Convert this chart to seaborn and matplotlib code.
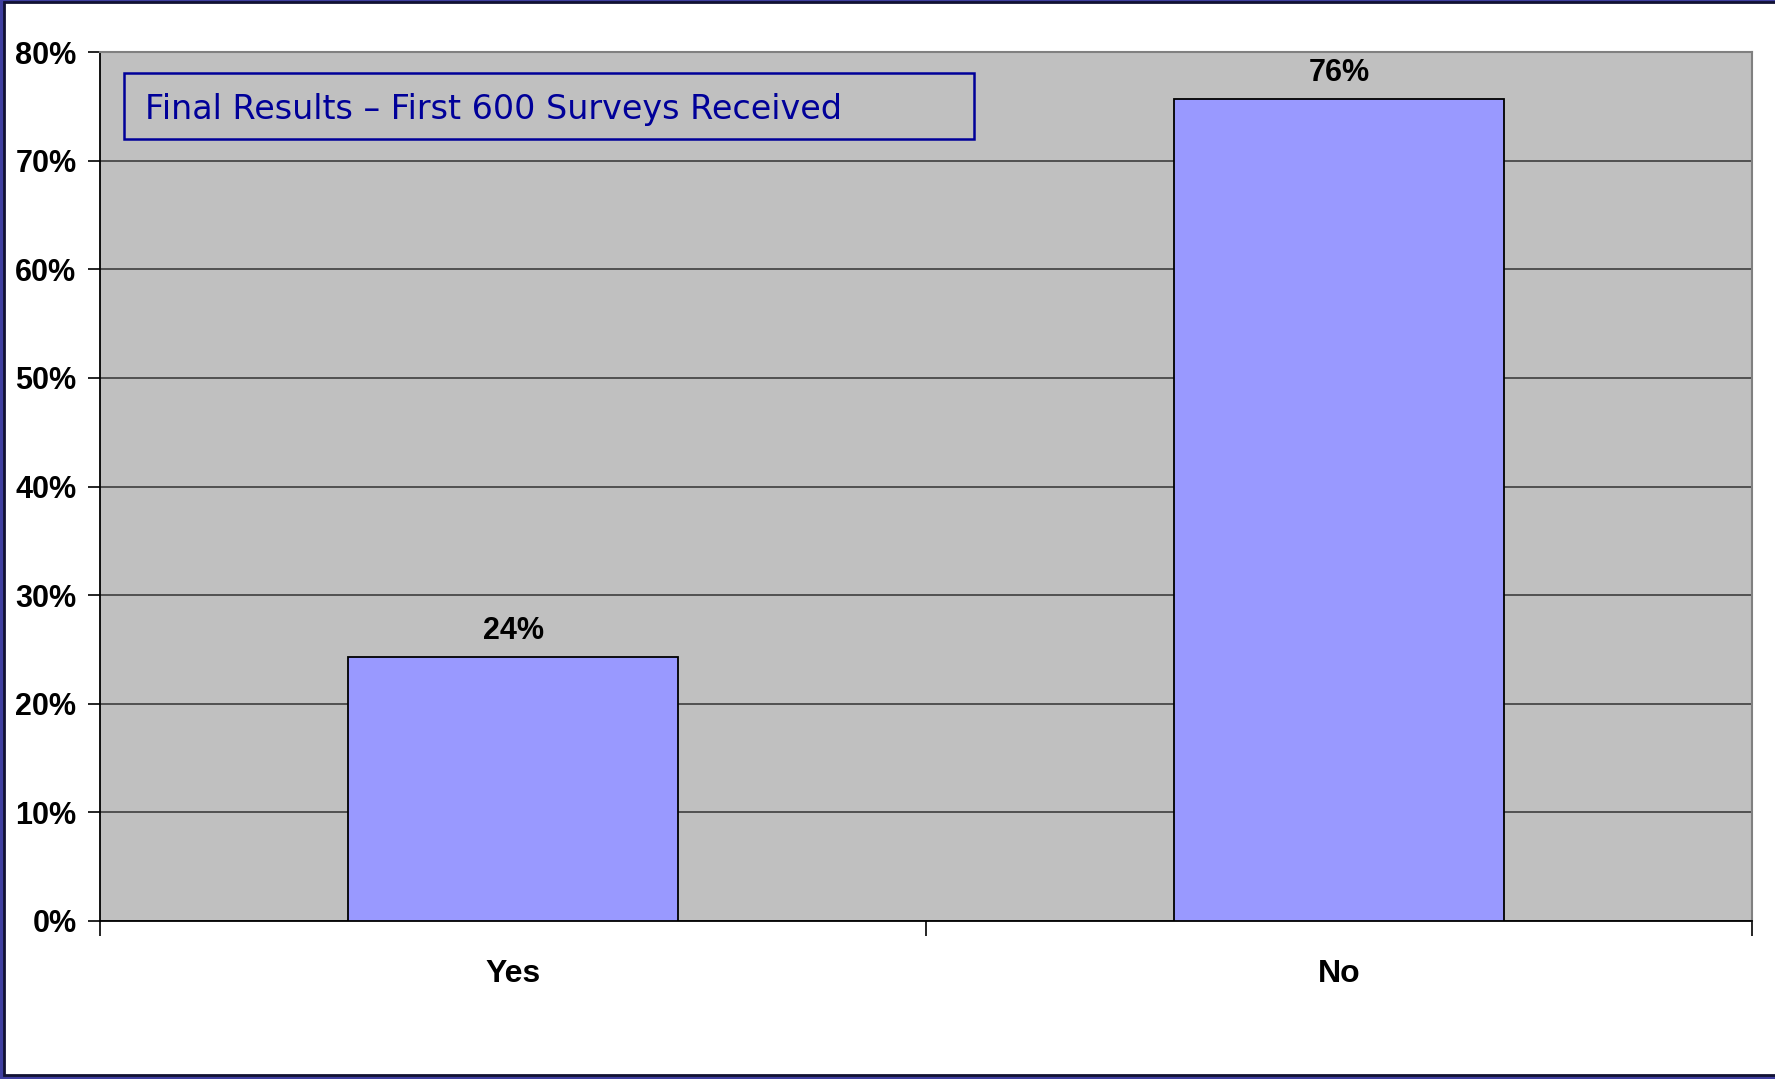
import matplotlib
matplotlib.use("Agg")
import matplotlib.pyplot as plt
import seaborn as sns
import pandas as pd
from matplotlib.patches import Rectangle
from matplotlib.ticker import PercentFormatter, FixedLocator

categories = ["Yes", "No"]
values = [24.3, 75.7]
value_labels = ["24%", "76%"]
title_text = "Final Results \u2013 First 600 Surveys Received"

W, H = 1775, 1079
sns.set_theme(style="white")
plt.rcParams['font.family'] = ['Liberation Sans', 'DejaVu Sans']

fig = plt.figure(figsize=(W / 100, H / 100), dpi=100)
fig.patch.set_facecolor('#3f3fa0')

def fx(px):
    return px / W

def fy(py):
    return 1 - py / H

# white slide area
fig.patches.append(Rectangle((fx(4), fy(1075)), fx(1775) - fx(4) + 0.01, fy(2) - fy(1075),
                             transform=fig.transFigure, facecolor='white',
                             edgecolor='#111133', linewidth=2, zorder=-1))

ax = fig.add_axes([fx(100), fy(921), fx(1752) - fx(100), fy(52) - fy(921)])
df = pd.DataFrame({"answer": categories, "pct": values})
sns.barplot(data=df, x="answer", y="pct", color='#9999FF', saturation=1,
            width=0.4, edgecolor='black', linewidth=1.3, ax=ax, zorder=3)

ax.set_facecolor('#C0C0C0')
ax.set_ylim(0, 80)
ax.set_xlim(-0.5, 1.5)
ax.set_yticks(range(0, 81, 10))
ax.yaxis.set_major_formatter(PercentFormatter(xmax=100, decimals=0))
ax.yaxis.grid(True, color='#333333', linewidth=1.1, zorder=1)
ax.set_axisbelow(True)
ax.set_xlabel("")
ax.set_ylabel("")

for lbl in ax.get_yticklabels():
    lbl.set_fontweight('bold')
ax.tick_params(axis='y', which='major', left=True, length=9, width=1.2, color='black',
               labelsize=22, pad=8, labelcolor='black')
ax.tick_params(axis='x', which='major', bottom=False, length=0, labelsize=23,
               pad=27, labelcolor='black')
for lbl in ax.get_xticklabels():
    lbl.set_fontweight('bold')
ax.xaxis.set_minor_locator(FixedLocator([-0.5, 0.5, 1.5]))
ax.tick_params(axis='x', which='minor', bottom=True, length=11, width=1.2, color='black')

for side in ['top', 'right']:
    ax.spines[side].set_color('#808080')
    ax.spines[side].set_linewidth(1.5)
for side in ['left', 'bottom']:
    ax.spines[side].set_color('black')
    ax.spines[side].set_linewidth(1.3)
    ax.spines[side].set_visible(True)

for i, (v, t) in enumerate(zip(values, value_labels)):
    ax.annotate(t, (i, v), xytext=(0, 8), textcoords='offset points', ha='center',
                va='bottom', fontsize=22, fontweight='bold', color='black')

# title box
fig.patches.append(Rectangle((fx(124), fy(139)), fx(974) - fx(124), fy(73) - fy(139),
                             transform=fig.transFigure, facecolor='none',
                             edgecolor='#000099', linewidth=1.8, zorder=5))
fig.text(fx(145), fy(110), title_text, color='#000099', fontsize=24,
         family=['DejaVu Sans'], ha='left', va='center')

fig.savefig('out.png', dpi=100, facecolor=fig.get_facecolor())
